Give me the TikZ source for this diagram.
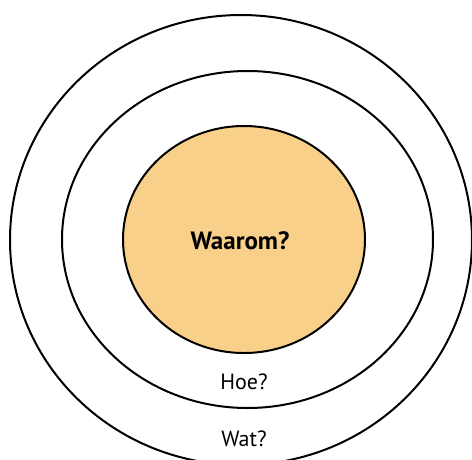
\documentclass[tikz,border=0pt]{standalone}
\usepackage{fontspec}
\setmainfont{PT Sans}
\definecolor{coreorange}{RGB}{248,208,138}
\begin{document}
\begin{tikzpicture}[x=1pt,y=-1pt,
  ring/.style={draw=black,line width=2pt},
  lbl/.style={font=\fontsize{22}{24}\selectfont,inner sep=0pt,anchor=center}]
\useasboundingbox (0,0) rectangle (472,459);
\fill[white] (0,0) rectangle (472,459);
\draw[ring] (241,240) ellipse [x radius=231pt, y radius=225pt];
\draw[ring] (247.5,239.5) ellipse [x radius=185.5pt, y radius=168.5pt];
\draw[ring,fill=coreorange] (244,239.5) ellipse [x radius=121pt, y radius=113.5pt];
\node[lbl,font=\fontsize{25}{27}\selectfont\bfseries] (why) at (240,241) {Waarom?};
\node[lbl] (how) at (244,382) {Hoe?};
\node[lbl] (what) at (244,439) {Wat?};
\end{tikzpicture}
\end{document}
